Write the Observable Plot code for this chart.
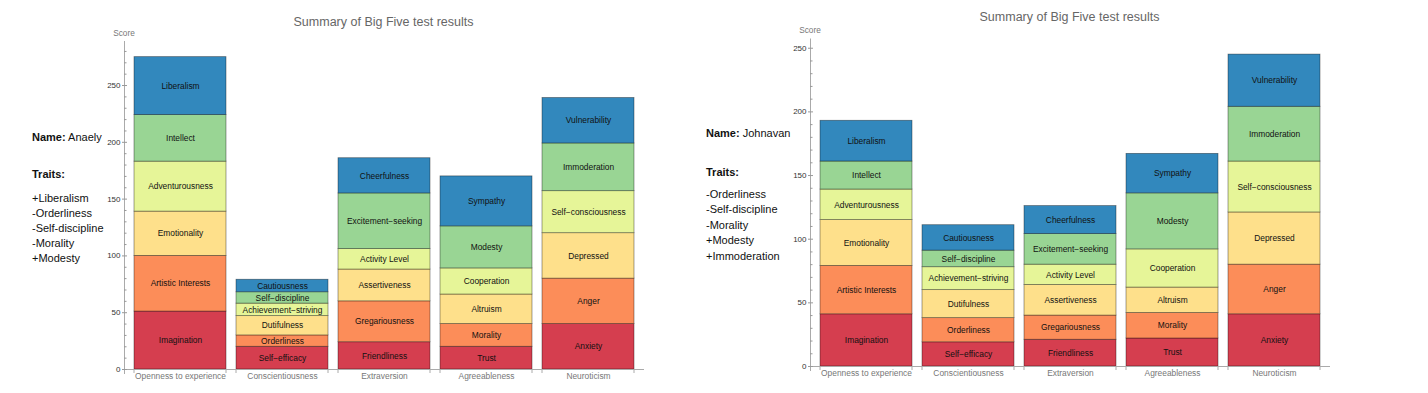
<!DOCTYPE html>
<html><head><meta charset="utf-8">
<script src="https://cdn.jsdelivr.net/npm/d3@7"></script>
<script src="https://cdn.jsdelivr.net/npm/@observablehq/plot@0.6"></script>
<style>
html,body{margin:0;padding:0;background:#fff;}
#root{position:relative;width:1428px;height:393px;overflow:hidden;font-family:"Liberation Sans",Arial,sans-serif;}
.abs{position:absolute;white-space:nowrap;}
.title{font-size:12.5px;color:#666;text-align:center;width:519px;line-height:14px;}
.score{font-size:8.3px;color:#777;width:40px;text-align:center;line-height:10px;}
.panel{font-size:11px;color:#111;line-height:12px;}
svg{position:absolute;}
</style></head><body><div id="root"></div>
<script>
// ---- data ----
const traits = ["Openness to experience","Conscientiousness","Extraversion","Agreeableness","Neuroticism"];
const opennessFacets = ["Imagination","Artistic Interests","Emotionality","Adventurousness","Intellect","Liberalism"];
const conscientiousnessFacets = ["Self\u2212efficacy","Orderliness","Dutifulness","Achievement\u2212striving","Self\u2212discipline","Cautiousness"];
const extraversionFacets = ["Friendliness","Gregariousness","Assertiveness","Activity Level","Excitement\u2212seeking","Cheerfulness"];
const agreeablenessFacets = ["Trust","Morality","Altruism","Cooperation","Modesty","Sympathy"];
const neuroticismFacets = ["Anxiety","Anger","Depressed","Self\u2212consciousness","Immoderation","Vulnerability"];

const anaelyOpenness = [51,49,39,44,41,51];
const anaelyConscientiousness = [20,10,17,11,10,11];
const anaelyExtraversion = [24,36,28,18,49,31];
const anaelyAgreeableness = [20,20,26,23,37,44];
const anaelyNeuroticism = [40,40,40,37,42,40];
const anaelyTraits = ["+Liberalism","-Orderliness","-Self-discipline","-Morality","+Modesty"];

const johnavanOpenness = [41,38,36,24,22,32];
const johnavanConscientiousness = [19,19,22,18,13,20];
const johnavanExtraversion = [21,19,24,16,24,22];
const johnavanAgreeableness = [22,20,20,30,44,31];
const johnavanNeuroticism = [41,39,41,40,43,41];
const johnavanTraits = ["-Orderliness","-Self-discipline","-Morality","+Modesty","+Immoderation"];

const yMajorStep = 50, yMinorStep = 10;
const titleText = "Summary of Big Five test results";
const yLabel = "Score";

// ---- style ----
const spectral = ["#d53e4f","#fc8d59","#fee08b","#e6f598","#99d594","#3288bd"];
const FONT = '"Liberation Sans", Arial, sans-serif';
const facets = [opennessFacets, conscientiousnessFacets, extraversionFacets, agreeablenessFacets, neuroticismFacets];

function chart(values, mt, mb) {
  const rows = [];
  traits.forEach((t, i) => facets[i].forEach((f, j) => rows.push({trait: t, facet: f, value: values[i][j], k: j})));
  const yMax = d3.max(values, v => d3.sum(v)) * 1.05;
  const major = d3.range(0, yMax, yMajorStep);
  const minor = d3.range(0, yMax, yMinorStep).filter(v => v % yMajorStep);
  const W = 700, ML = 124, MR = 57, FW = W - ML - MR;
  function edgeTicks(index, scales) {
    const x = scales.x, y0 = scales.y(0);
    const bw = typeof x.bandwidth === "function" ? x.bandwidth() : 0;
    const g = d3.create("svg:g").attr("stroke", "#aaa").attr("stroke-width", 1);
    for (const t of traits) {
      for (const xe of [x(t), x(t) + bw]) {
        g.append("line").attr("x1", xe).attr("x2", xe).attr("y1", y0).attr("y2", y0 + 4);
      }
    }
    return g.node();
  }
  return Plot.plot({
    width: W, height: 393, marginLeft: ML, marginRight: MR, marginTop: mt, marginBottom: mb,
    style: {fontFamily: FONT, background: "transparent", overflow: "visible"},
    x: {domain: traits, paddingInner: 0.1, paddingOuter: 0.09, label: null},
    y: {domain: [0, yMax], label: null},
    color: {type: "ordinal", domain: d3.range(6), range: spectral},
    marks: [
      Plot.barY(rows, {x: "trait", y: "value", fill: "k", stroke: "black", strokeOpacity: 0.45, strokeWidth: 0.8}),
      Plot.text(rows, Plot.stackY({x: "trait", y: "value", text: "facet", fontSize: 8.4, fill: "#111"})),
      Plot.frame({anchor: "left", stroke: "#aaa", insetBottom: -4}),
      Plot.frame({anchor: "bottom", stroke: "#aaa"}),
      Plot.tickY(minor, {y: d => d, stroke: "#999", insetRight: FW - 2.5}),
      Plot.tickY(major, {y: d => d, stroke: "#999", dx: -2, insetRight: FW - 5}),
      Plot.axisY(major, {tickSize: 0, tickPadding: 4, fontSize: 8, color: "#333", label: null}),
      Plot.axisX({tickSize: 0, tickPadding: 4, fontSize: 8.4, color: "#777", label: null}),
      edgeTicks
    ]
  });
}

const root = document.getElementById("root");
function addDiv(cls, html, left, top, extra) {
  const d = document.createElement("div");
  d.className = "abs " + cls;
  d.innerHTML = html;
  d.style.left = left + "px";
  d.style.top = top + "px";
  if (extra) Object.assign(d.style, extra);
  root.appendChild(d);
  return d;
}

function person(name, traitList, values, dx, mt, mb, titleTop, scoreTop, panelX, nameTop, traitsTop, listTops) {
  const svg = chart(values, mt, mb);
  svg.style.left = dx + "px";
  svg.style.top = "0px";
  root.appendChild(svg);
  addDiv("title", titleText, dx + 124, titleTop);
  addDiv("score", yLabel, dx + 124 - 20, scoreTop);
  addDiv("panel", "<b>Name:</b> " + name, panelX, nameTop);
  addDiv("panel", "<b>Traits:</b>", panelX, traitsTop);
  traitList.forEach((t, i) => addDiv("panel", t, panelX, listTops[i]));
}

person("Anaely", anaelyTraits,
  [anaelyOpenness, anaelyConscientiousness, anaelyExtraversion, anaelyAgreeableness, anaelyNeuroticism],
  0, 41, 24, 14.7, 28, 32, 130.7, 167.7, [191.7, 206.7, 222, 237, 252.3]);
person("Johnavan", johnavanTraits,
  [johnavanOpenness, johnavanConscientiousness, johnavanExtraversion, johnavanAgreeableness, johnavanNeuroticism],
  686, 38.5, 27, 10.3, 24.6, 706, 127.3, 166, [188, 203.3, 219, 234.3, 249.7]);
</script></body></html>
